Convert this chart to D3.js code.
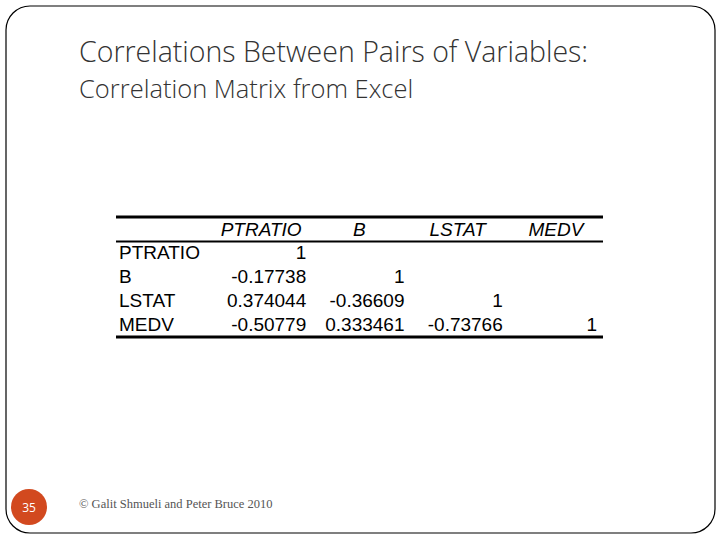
<!DOCTYPE html>
<html><head><meta charset="utf-8">
<script src="https://cdn.jsdelivr.net/npm/d3@7"></script>
<style>body{margin:0;background:#fff}</style></head>
<body><svg id="c" width="720" height="540"></svg>
<script>
const variables = ["PTRATIO", "B", "LSTAT", "MEDV"];
const matrix = [
  ["1", "", "", ""],
  ["-0.17738", "1", "", ""],
  ["0.374044", "-0.36609", "1", ""],
  ["-0.50779", "0.333461", "-0.73766", "1"]
];
const svg = d3.select("#c");
svg.append("rect").attr("x",6).attr("y",6).attr("width",709).attr("height",527)
  .attr("rx",24).attr("fill","none").attr("stroke","#000").attr("stroke-width",1.2);
svg.append("text").attr("x",79).attr("y",62).attr("font-family","Open Sans, sans-serif").attr("font-weight",300)
  .attr("font-size",28.5).attr("fill","#333").text("Correlations Between Pairs of Variables:");
svg.append("text").attr("x",79).attr("y",98).attr("font-family","Open Sans, sans-serif").attr("font-weight",300)
  .attr("font-size",25.5).attr("fill","#333").text("Correlation Matrix from Excel");

const colRight = d3.scaleLinear().domain([0, 4]).range([208, 601]);
const y = d3.scaleBand().domain(["head", ...variables]).range([218, 338]);
const g = svg.append("g").attr("font-family","Liberation Sans, Arial, sans-serif").attr("font-size",19).attr("fill","#000");
g.selectAll(".h").data(variables).enter().append("text")
  .attr("x",(d,i)=>(colRight(i)+colRight(i+1))/2+4).attr("y",y("head")+y.bandwidth()*0.76)
  .attr("text-anchor","middle").attr("font-style","italic").text(d=>d);
g.selectAll(".r").data(variables).enter().append("text")
  .attr("x",119).attr("y",d=>y(d)+y.bandwidth()*0.72).text(d=>d);
variables.forEach((rv,ri)=>{
  g.selectAll(null).data(matrix[ri]).enter().append("text")
    .attr("x",(d,ci)=>colRight(ci+1)-(ci===3?4:0)).attr("y",y(rv)+y.bandwidth()*0.72)
    .attr("text-anchor","end").text(d=>d);
});
svg.append("line").attr("x1",116).attr("x2",603).attr("y1",217).attr("y2",217).attr("stroke","#000").attr("stroke-width",3);
svg.append("line").attr("x1",116).attr("x2",603).attr("y1",241.5).attr("y2",241.5).attr("stroke","#000").attr("stroke-width",2);
svg.append("line").attr("x1",116).attr("x2",603).attr("y1",337).attr("y2",337).attr("stroke","#000").attr("stroke-width",3);

svg.append("circle").attr("cx",29).attr("cy",507).attr("r",18).attr("fill","#d2491f");
svg.append("text").attr("x",29).attr("y",512).attr("text-anchor","middle").attr("font-family","Open Sans, sans-serif")
  .attr("font-size",12).attr("fill","#fff").text("35");
svg.append("text").attr("x",79).attr("y",508).attr("font-family","Liberation Serif, serif")
  .attr("font-size",12.5).attr("fill","#555").text("© Galit Shmueli and Peter Bruce 2010");
</script></body></html>
